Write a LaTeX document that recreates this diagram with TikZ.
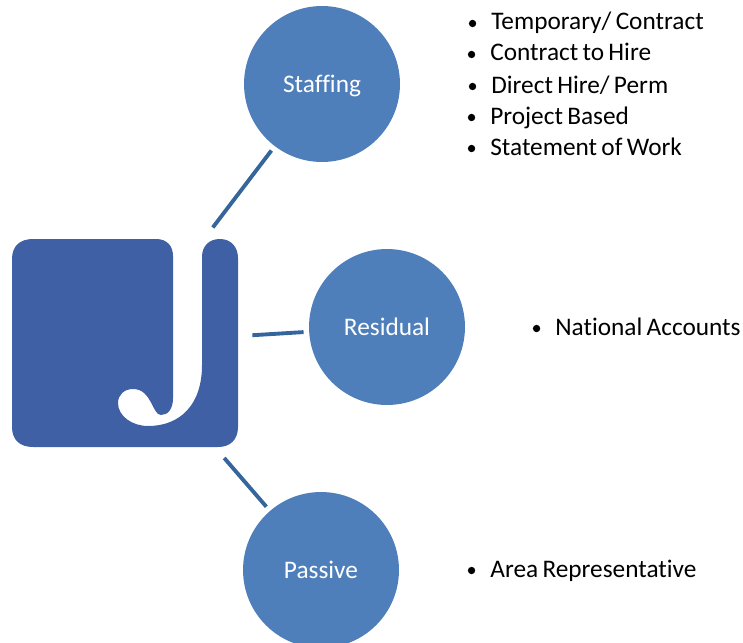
\documentclass[tikz,border=0pt]{standalone}
\usepackage{fontspec}
\setmainfont{Carlito}[Ligatures=NoCommon]
\usepackage{xcolor}
\definecolor{circleblue}{HTML}{4F7FBA}
\definecolor{logoblue}{HTML}{3F60A5}
\definecolor{lineblue}{HTML}{34659B}
\newcommand{\labelfont}{\fontsize{14.4}{16}\selectfont\spaceskip=0.17em\relax}
\tikzset{
    area/.style={circle, fill=circleblue, text=white, minimum size=3.12cm, inner sep=0pt, text height=11pt, text depth=1.4pt, font=\labelfont},
    link/.style={draw=lineblue, line width=2.2pt, shorten <=8pt, shorten >=3pt},
    entry/.style={anchor=base west, inner sep=0pt, font=\labelfont},
    dot/.style={circle, fill=black, minimum size=4.2pt, inner sep=0pt}
}

\begin{document}
\begin{tikzpicture}[x=0.02cm, y=-0.02cm]
    \useasboundingbox (0, 0) rectangle (743, 642);

    % logo
    \fill[logoblue] (12, 259) .. controls (12, 246) and (20, 239) .. (33, 239)
        -- (156, 239) .. controls (167, 239) and (173, 246) .. (173, 256)
        -- (173, 398) .. controls (173, 409) and (168, 415) .. (161, 415)
        .. controls (152, 415) and (152, 389) .. (133, 389)
        .. controls (124, 389) and (118, 395) .. (118, 403)
        .. controls (118, 416) and (132, 426) .. (148, 426)
        .. controls (180, 426) and (202, 405) .. (202, 365)
        -- (202, 257) .. controls (202, 246) and (209, 239) .. (220, 239)
        .. controls (231, 239) and (238, 247) .. (238, 258)
        -- (238, 427) .. controls (238, 440) and (230, 447) .. (218, 447)
        -- (33, 447) .. controls (20, 447) and (12, 440) .. (12, 427) -- cycle;
    \node[minimum width=4.52cm, minimum height=4.16cm, inner sep=0pt] (logo) at (125, 343) {};

    \node[area] (staffing) at (322, 84) {Staffing};
    \node[area] (residual) at (387, 327) {Residual};
    \node[area] (passive) at (321, 570) {Passive};

    \draw[link] (logo) -- (staffing);
    \draw[link] (logo) -- (residual);
    \draw[link] (logo) -- (passive);

    \foreach \name/\xpos/\ypos/\entrytext in {
        temp/491/30/{Temporary/ Contract},
        hire/490/61/{Contract to Hire},
        perm/491/93/{Direct Hire/ Perm},
        proj/490/124/{Project Based},
        work/490/155/{Statement of Work},
        natl/555/335/{National Accounts},
        rep/490/577/{Area Representative}} {
        \node[entry] (\name) at (\xpos, \ypos) {\entrytext};
        \node[dot, xshift=-10.5pt, yshift=3.7pt] (\name bullet) at (\name.base west) {};
    }
\end{tikzpicture}
\end{document}
